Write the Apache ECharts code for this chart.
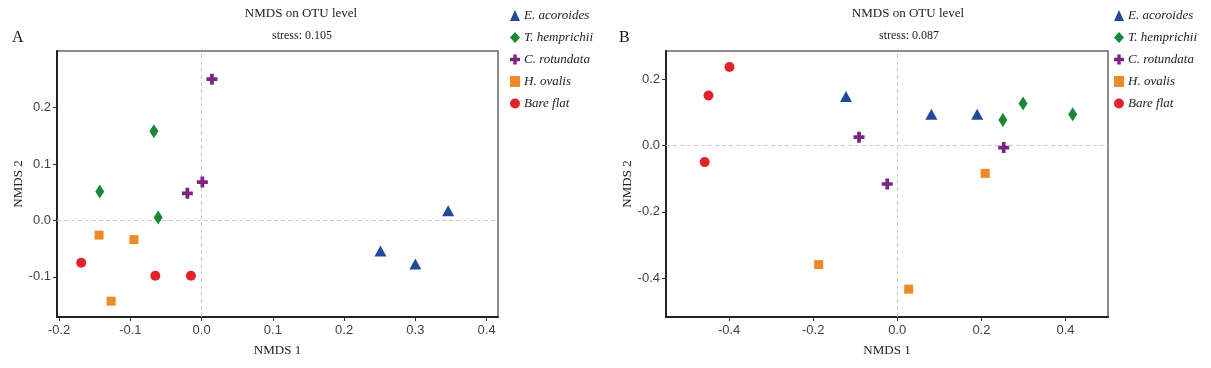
<!DOCTYPE html>
<html>
<head>
<meta charset="utf-8">
<script src="https://cdn.jsdelivr.net/npm/echarts@6/dist/echarts.min.js"></script>
<style>
html,body{margin:0;padding:0;background:#fff;}
#chart{width:1211px;height:368px;}
</style>
</head>
<body>
<div id="chart"></div>
<script>
// ---- Data ----
const groups = ['E. acoroides', 'T. hemprichii', 'C. rotundata', 'H. ovalis', 'Bare flat'];

// Panel A (stress 0.105): [NMDS1, NMDS2]
const A_acoroides  = [[0.251, -0.054], [0.300, -0.077], [0.346, 0.017]];
const A_hemprichii = [[-0.067, 0.158], [-0.143, 0.051], [-0.061, 0.005]];
const A_rotundata  = [[0.0145, 0.250], [0.001, 0.068], [-0.020, 0.048]];
const A_ovalis     = [[-0.144, -0.026], [-0.095, -0.034], [-0.127, -0.143]];
const A_bareflat   = [[-0.169, -0.075], [-0.065, -0.098], [-0.015, -0.098]];

// Panel B (stress 0.087)
const B_acoroides  = [[-0.122, 0.148], [0.081, 0.094], [0.190, 0.094]];
const B_hemprichii = [[0.251, 0.077], [0.299, 0.127], [0.417, 0.094]];
const B_rotundata  = [[-0.091, 0.025], [0.253, -0.006], [-0.024, -0.116]];
const B_ovalis     = [[0.209, -0.084], [-0.187, -0.359], [0.027, -0.433]];
const B_bareflat   = [[-0.399, 0.237], [-0.449, 0.151], [-0.458, -0.050]];

const xTicksA = [-0.2, -0.1, 0.0, 0.1, 0.2, 0.3, 0.4];
const yTicksA = [-0.1, 0.0, 0.1, 0.2];
const xTicksB = [-0.4, -0.2, 0.0, 0.2, 0.4];
const yTicksB = [-0.4, -0.2, 0.0, 0.2];

const titleText = 'NMDS on OTU level';
const stressA = 'stress: 0.105';
const stressB = 'stress: 0.087';

// ---- Styles ----
const colors = ['#22489a', '#17883a', '#7a2584', '#ef8a2a', '#e2232a'];
const crossPath = 'path://M3.3,0 H6.7 V3.3 H10 V6.7 H6.7 V10 H3.3 V6.7 H0 V3.3 H3.3 Z';
const symbols = ['triangle', 'diamond', crossPath, 'rect', 'circle'];
const sizes = [[12, 11], [9, 14], [11, 11], [9, 9], [10, 10]];
const legendIcons = ['triangle', 'diamond', crossPath, 'rect', 'circle'];

const serif = '"Liberation Serif", "DejaVu Serif", serif';
const sans = '"Liberation Sans", Arial, sans-serif';

function fmt(v) { return (Math.round(v * 10) / 10).toFixed(1); }

function xAxisCfg(gridIndex, min, max, ticks) {
  return {
    type: 'value', gridIndex, min, max,
    name: 'NMDS 1', nameLocation: 'middle', nameGap: 27,
    nameTextStyle: { fontFamily: serif, fontSize: 13, color: '#222' },
    axisLine: { show: true, onZero: false, lineStyle: { color: '#222', width: 2 } },
    axisTick: { show: true, length: 4, customValues: ticks, lineStyle: { color: '#333', width: 1 } },
    axisLabel: { customValues: ticks, formatter: fmt, fontFamily: sans, fontSize: 13, color: '#444', margin: 7 },
    splitLine: { show: false }
  };
}
function yAxisCfg(gridIndex, min, max, ticks) {
  return {
    type: 'value', gridIndex, min, max,
    name: 'NMDS 2', nameLocation: 'middle', nameGap: 31,
    nameTextStyle: { fontFamily: serif, fontSize: 13, color: '#222' },
    axisLine: { show: true, onZero: false, lineStyle: { color: '#222', width: 2 } },
    axisTick: { show: true, length: 4, customValues: ticks, lineStyle: { color: '#333', width: 1 } },
    axisLabel: { customValues: ticks, formatter: fmt, fontFamily: sans, fontSize: 13, color: '#444', margin: 6 },
    splitLine: { show: false }
  };
}

const panelA = [A_acoroides, A_hemprichii, A_rotundata, A_ovalis, A_bareflat];
const panelB = [B_acoroides, B_hemprichii, B_rotundata, B_ovalis, B_bareflat];

const refLine = {
  silent: true, symbol: 'none', label: { show: false },
  lineStyle: { color: '#c8c8c8', type: [4, 3], width: 1 },
  data: [{ xAxis: 0 }, { yAxis: 0 }]
};

const series = [];
[panelA, panelB].forEach((panel, p) => {
  panel.forEach((data, i) => {
    const s = {
      type: 'scatter', name: groups[i], xAxisIndex: p, yAxisIndex: p,
      data: data, symbol: symbols[i], symbolSize: sizes[i],
      itemStyle: { color: colors[i], opacity: 1 },
      z: 5
    };
    if (i === 0) s.markLine = refLine;
    series.push(s);
  });
});

function legendCfg(left) {
  return {
    orient: 'vertical', left: left, top: 4, itemGap: 9,
    itemWidth: 10, itemHeight: 11,
    selectedMode: false,
    data: groups.map((g, i) => ({ name: g, icon: legendIcons[i], itemStyle: { color: colors[i] } })),
    textStyle: { fontFamily: serif, fontSize: 13, fontStyle: 'italic', color: '#222', padding: [0, 0, 0, -1] }
  };
}

const option = {
  backgroundColor: '#fff',
  animation: false,
  title: [
    { text: titleText, left: 296, top: 2, textAlign: 'center', textStyle: { fontFamily: serif, fontSize: 13, fontWeight: 'normal', color: '#222' } },
    { text: stressA, left: 297, top: 25, textAlign: 'center', textStyle: { fontFamily: serif, fontSize: 12, fontWeight: 'normal', color: '#222' } },
    { text: 'A', left: 7, top: 25, textStyle: { fontFamily: serif, fontSize: 16, fontWeight: 'normal', color: '#111' } },
    { text: titleText, left: 903, top: 2, textAlign: 'center', textStyle: { fontFamily: serif, fontSize: 13, fontWeight: 'normal', color: '#222' } },
    { text: stressB, left: 904, top: 25, textAlign: 'center', textStyle: { fontFamily: serif, fontSize: 12, fontWeight: 'normal', color: '#222' } },
    { text: 'B', left: 614, top: 25, textStyle: { fontFamily: serif, fontSize: 16, fontWeight: 'normal', color: '#111' } }
  ],
  legend: [legendCfg(505), legendCfg(1109)],
  grid: [
    { left: 57, top: 51, width: 441, height: 266, show: true, borderColor: '#666', borderWidth: 1.5, backgroundColor: 'transparent' },
    { left: 666, top: 51, width: 442, height: 266, show: true, borderColor: '#666', borderWidth: 1.5, backgroundColor: 'transparent' }
  ],
  xAxis: [xAxisCfg(0, -0.203, 0.416, xTicksA), xAxisCfg(1, -0.55, 0.501, xTicksB)],
  yAxis: [yAxisCfg(0, -0.171, 0.300, yTicksA), yAxisCfg(1, -0.517, 0.285, yTicksB)],
  series: series
};

const chart = echarts.init(document.getElementById('chart'), null, { renderer: 'canvas' });
chart.setOption(option);
</script>
</body>
</html>
